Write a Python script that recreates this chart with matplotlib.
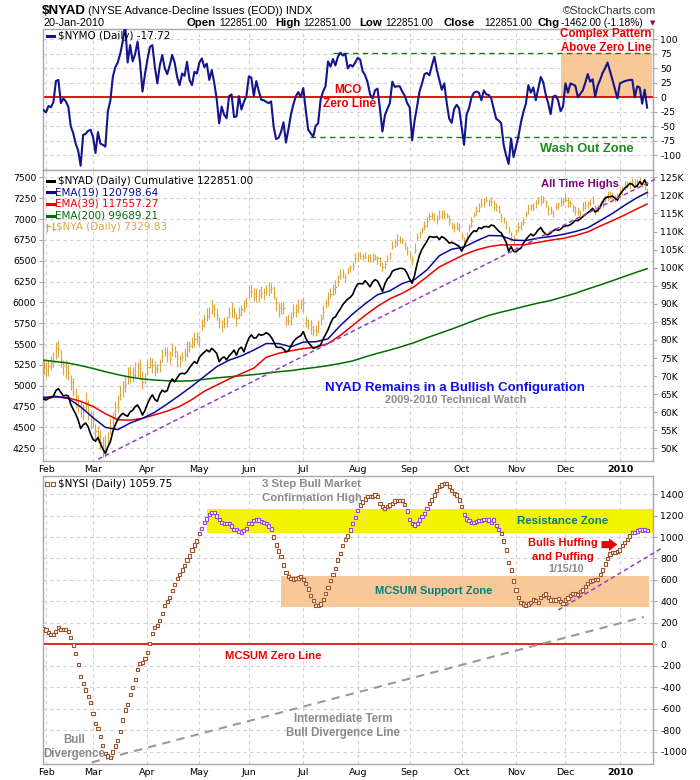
import numpy as np
import pandas as pd
import matplotlib
matplotlib.use('Agg')
import matplotlib.pyplot as plt
from matplotlib.patches import Rectangle, Polygon
from matplotlib.lines import Line2D

# ---------------- data ----------------
holidays = ['2009-02-16', '2009-04-10', '2009-05-25', '2009-07-03', '2009-09-07',
            '2009-11-26', '2009-12-25', '2010-01-01', '2010-01-18']
dates = pd.bdate_range('2009-01-30', '2010-01-20', freq='C', holidays=holidays)

month_labels = ['Feb', 'Mar', 'Apr', 'May', 'Jun', 'Jul', 'Aug', 'Sep', 'Oct', 'Nov', 'Dec', '2010']

nymo = [
    -22, -26, -15, -17, -8, 28, 30, -10, -2, -7,
    -16, -50, -62, -80, -92, -118, -65, -63, -58, -56,
    -68, -96, -60, -80, -82, -85, -24, -6, 35, 52,
    60, 75, 96, 125, 60, 90, 62, 74, 96, 60,
    10, 40, 65, 87, 90, 52, 24, 55, 73, 50,
    40, 55, 73, 60, 35, 21, 41, 37, 61, 30,
    21, 44, 41, 60, 67, 52, 58, 30, 47, 25,
    -3, -45, -16, -30, -36, 2, 5, -34, -33, 2,
    -21, -8, 2, 36, 34, 2, 28, 11, -4, -5,
    -8, -10, -7, -50, -72, -70, -60, -43, -78, -55,
    -30, -12, 2, 9, 0, 16, -22, -56, -62, -68,
    -49, -45, -4, 10, 19, 62, 53, 66, 55, 70,
    77, 72, 75, 50, 56, 53, 60, 68, 65, 45,
    38, 26, 5, -2, 12, 15, -20, -59, -31, -20,
    -10, 27, 18, 19, 19, 10, 3, -10, -17, -74,
    -40, -16, 10, 24, 40, 42, 38, 55, 70, 47,
    30, 13, 24, -10, -37, -44, -20, -13, -19, -50,
    -82, -30, -19, 0, 8, 10, 8, -5, 12, 5,
    4, -2, -20, -37, -40, -45, -82, -100, -115, -71,
    -103, -85, -67, -43, -25, -11, 21, 8, 17, -5,
    15, 35, 26, 5, -10, -29, 1, 3, -5, -24,
    -16, 24, 8, 24, 22, 20, 0, 6, 12, 25,
    40, 27, 31, 1, 20, 30, 42, 50, 60, 45,
    30, 14, -2, 24, 26, 28, 29, 30, 30, 0,
    19, 17, -11, 13, -17.72]

nyad_k = [
    63.6, 63.4, 63.8, 64.1, 64.5, 66.0, 66.5, 65.5, 64.5, 64.7,
    64.5, 62.2, 60.8, 59.5, 57.8, 55.5, 56.5, 57.0, 56.0, 54.0,
    52.5, 52.0, 53.0, 51.3, 49.8, 48.6, 50.4, 51.8, 54.6, 56.5,
    58.0, 59.0, 59.7, 59.2, 58.9, 60.1, 60.5, 61.5, 62.0, 60.8,
    59.2, 60.5, 62.3, 63.8, 64.8, 63.5, 63.0, 65.0, 66.1, 65.6,
    66.0, 68.0, 69.2, 68.4, 69.5, 70.5, 70.8, 70.6, 71.2, 72.3,
    73.2, 74.0, 73.5, 75.2, 76.0, 76.6, 77.2, 76.7, 77.7, 77.0,
    76.3, 74.0, 74.9, 75.3, 74.5, 75.6, 76.3, 77.2, 75.8, 77.5,
    78.0, 76.7, 78.8, 80.5, 81.4, 80.5, 80.6, 81.6, 81.3, 81.5,
    82.0, 81.6, 80.8, 79.6, 78.1, 77.9, 78.0, 77.5, 76.7, 77.0,
    78.3, 79.5, 80.3, 80.8, 81.2, 82.3, 80.5, 79.3, 78.5, 77.7,
    77.9, 78.2, 78.6, 80.2, 81.5, 82.8, 84.6, 86.0, 86.4, 87.6,
    88.6, 89.8, 90.6, 91.3, 91.8, 92.6, 94.3, 95.5, 95.6, 95.5,
    96.4, 95.6, 94.7, 96.0, 96.7, 96.3, 95.0, 93.4, 95.5, 96.9,
    97.6, 99.0, 99.4, 99.6, 99.8, 99.8, 99.5, 98.4, 96.8, 95.7,
    97.9, 101.0, 103.5, 105.1, 106.2, 107.3, 108.6, 108.5, 108.4, 108.6,
    107.8, 108.6, 108.2, 107.6, 106.8, 107.0, 106.7, 106.3, 105.9, 104.6,
    105.8, 107.4, 108.5, 109.5, 110.2, 110.0, 111.1, 110.8, 111.3, 111.4,
    111.2, 111.8, 111.6, 110.9, 110.1, 109.6, 108.4, 107.0, 104.5, 105.8,
    104.5, 104.4, 105.0, 105.4, 106.8, 107.8, 108.6, 109.3, 108.8, 109.5,
    110.5, 111.1, 110.0, 109.2, 109.1, 109.6, 110.2, 110.6, 110.3, 110.6,
    111.3, 111.6, 111.6, 111.9, 112.4, 113.1, 113.0, 113.5, 114.1, 114.7,
    115.2, 115.7, 116.4, 115.4, 115.8, 116.8, 118.2, 119.2, 119.6, 119.6,
    119.8, 119.2, 118.7, 120.3, 121.2, 122.0, 122.6, 123.3, 123.1, 122.3,
    122.6, 123.8, 123.0, 124.3, 122.851]

# EMA values read every 5 trading days (last point = final day)
ema_idx = list(range(0, 241, 5)) + [244]
ema19_k = [64.1, 64.4, 63.8, 61.5, 58.5, 55.8, 55.2, 57.0, 58.3, 60.0,
           62.3, 64.7, 67.2, 69.9, 72.6, 74.4, 75.6, 77.2, 79.0, 79.0,
           78.1, 79.4, 79.5, 80.3, 84.0, 87.2, 90.0, 92.5, 93.6, 95.6,
           96.7, 99.4, 103.3, 105.1, 105.7, 107.4, 108.9, 108.8, 107.6, 107.5,
           108.2, 108.6, 109.2, 110.0, 111.0, 113.0, 115.0, 117.3, 119.4, 120.8]
ema39_k = [63.8, 64.2, 64.0, 63.0, 61.6, 59.6, 57.9, 57.8, 58.3, 59.3,
           60.3, 61.6, 63.5, 65.8, 67.5, 69.2, 70.7, 72.2, 75.2, 76.3,
           77.0, 77.6, 78.0, 79.0, 81.3, 84.0, 86.8, 89.3, 91.4, 92.9,
           94.8, 97.5, 100.2, 101.9, 103.6, 104.9, 105.8, 106.3, 106.3, 106.4,
           107.0, 107.6, 108.1, 108.9, 109.9, 111.5, 113.0, 114.6, 116.3, 117.6]
ema200_k = [74.4, 74.0, 73.6, 72.9, 72.1, 71.2, 70.4, 69.7, 69.2, 68.9,
            68.7, 68.6, 68.7, 69.1, 69.5, 69.8, 70.1, 70.4, 70.8, 71.2,
            71.5, 72.0, 72.4, 72.9, 73.5, 74.2, 75.3, 76.3, 77.2, 78.2,
            79.3, 80.6, 81.8, 83.0, 84.3, 85.6, 86.8, 87.7, 88.5, 89.4,
            90.2, 90.9, 91.9, 92.9, 94.1, 95.2, 96.4, 97.6, 98.8, 99.7]

nya_close = [
    5230, 5180, 5240, 5270, 5280, 5460, 5440, 5300, 5236, 5220,
    5150, 5050, 4950, 4880, 4770, 4730, 4717, 4790, 4680, 4620,
    4590, 4460, 4400, 4330, 4298, 4250, 4350, 4480, 4600, 4700,
    4800, 4900, 4990, 5020, 5100, 5157, 5130, 5170, 5210, 5217,
    5040, 5080, 5220, 5280, 5250, 5200, 5210, 5250, 5350, 5410,
    5380, 5320, 5440, 5420, 5330, 5290, 5350, 5380, 5440, 5475,
    5510, 5560, 5580, 5560, 5720, 5800, 5840, 5875, 5940, 5920,
    5850, 5780, 5720, 5740, 5780, 5870, 5910, 5880, 5810, 5860,
    5920, 5950, 5990, 6140, 6130, 6100, 6075, 6100, 6115, 6120,
    6134, 6160, 6170, 6115, 5990, 5930, 5920, 5935, 5790, 5780,
    5820, 5890, 5910, 5940, 5980, 5990, 5790, 5730, 5700, 5670,
    5655, 5720, 5800, 5880, 5990, 6050, 6100, 6155, 6180, 6260,
    6320, 6350, 6300, 6370, 6420, 6434, 6520, 6570, 6560, 6554,
    6546, 6540, 6534, 6520, 6540, 6530, 6494, 6420, 6460, 6520,
    6580, 6680, 6720, 6745, 6750, 6733, 6700, 6620, 6570, 6520,
    6640, 6780, 6830, 6870, 6920, 6980, 7033, 7050, 7010, 7000,
    7040, 7070, 7060, 7040, 6990, 6920, 6900, 6894, 6910, 6800,
    6740, 6780, 6900, 6980, 7050, 7100, 7150, 7180, 7200, 7233,
    7215, 7200, 7180, 7150, 7100, 7020, 6990, 6933, 6860, 6800,
    6774, 6850, 6900, 6930, 6960, 7060, 7130, 7153, 7133, 7190,
    7210, 7220, 7233, 7200, 7120, 7100, 7073, 7140, 7180, 7200,
    7213, 7230, 7210, 7190, 7150, 7100, 7090, 7073, 7130, 7165,
    7190, 7195, 7213, 7120, 7140, 7160, 7193, 7240, 7270, 7293,
    7280, 7260, 7253, 7320, 7350, 7390, 7420, 7432, 7445, 7420,
    7440, 7452, 7420, 7400, 7329.83]

# bar extents above / below the close (index points)
nya_up = [
    80, 110, 70, 90, 120, 60, 100, 130, 70, 90,
    110, 80, 140, 90, 120, 100, 70, 130, 150, 90,
    110, 80, 120, 140, 90, 160, 100, 130, 80, 120,
    90, 110, 70, 100, 130, 80, 90, 120, 70, 100,
    140, 70, 90, 60, 80, 100, 50, 70, 90, 60,
    80, 100, 70, 60, 90, 80, 50, 70, 100, 60,
    80, 90, 70, 50, 80, 60, 90, 70, 100, 60,
    80, 50, 70, 90, 60, 80, 100, 70, 60, 90,
    50, 80, 70, 60, 90, 70, 100, 60, 80, 50,
    70, 90, 60, 80, 70, 60, 90, 70, 50, 80,
    60, 90, 70, 100, 60, 80, 50, 70, 90, 60,
    80, 70, 60, 90, 50, 80, 70, 60, 90, 70,
    80, 50, 40, 60, 30, 50, 70, 40, 50, 30,
    60, 40, 50, 70, 40, 30, 50, 60, 40, 50,
    30, 60, 40, 70, 50, 40, 30, 60, 50, 40,
    70, 50, 30, 40, 60, 50, 40, 30, 60, 50,
    70, 40, 50, 30, 60, 40, 50, 70, 40, 30,
    50, 60, 40, 50, 30, 60, 40, 70, 50, 40,
    30, 60, 50, 40, 70, 50, 30, 40, 60, 50,
    40, 30, 60, 50, 70, 40, 50, 30, 60, 40,
    50, 70, 40, 30, 50, 60, 40, 50, 30, 60,
    40, 70, 50, 40, 30, 60, 50, 40, 70, 50,
    30, 40, 60, 50, 40, 30, 60, 50, 70, 40,
    50, 30, 60, 40, 50, 70, 40, 30, 50, 60,
    40, 50, 30, 60, 40]
nya_dn = [
    90, 70, 120, 80, 60, 140, 90, 70, 110, 130,
    80, 100, 70, 150, 90, 110, 130, 80, 90, 140,
    100, 120, 70, 90, 150, 110, 80, 60, 120, 90,
    110, 70, 130, 100, 80, 120, 90, 70, 110, 130,
    80, 60, 90, 70, 100, 80, 60, 90, 70, 50,
    90, 60, 80, 70, 100, 60, 50, 80, 90, 70,
    60, 100, 70, 80, 50, 90, 60, 70, 80, 100,
    60, 90, 70, 50, 80, 60, 100, 70, 90, 60,
    80, 70, 50, 90, 60, 80, 70, 100, 60, 90,
    50, 80, 60, 70, 90, 100, 60, 80, 70, 50,
    90, 60, 80, 70, 60, 100, 90, 50, 80, 70,
    60, 90, 70, 80, 60, 90, 50, 70, 80, 60,
    40, 60, 50, 30, 60, 40, 50, 70, 40, 50,
    30, 60, 50, 40, 30, 70, 60, 40, 50, 30,
    60, 40, 50, 70, 40, 30, 60, 50, 40, 70,
    50, 30, 60, 40, 50, 70, 40, 50, 30, 60,
    40, 70, 50, 30, 60, 40, 50, 30, 70, 40,
    60, 50, 40, 70, 30, 50, 60, 40, 50, 30,
    60, 40, 70, 50, 30, 60, 40, 50, 30, 60,
    70, 40, 50, 60, 30, 40, 70, 50, 40, 60,
    30, 50, 40, 60, 70, 40, 50, 30, 60, 40,
    50, 30, 60, 40, 70, 50, 40, 60, 30, 50,
    60, 40, 30, 70, 50, 40, 60, 30, 50, 40,
    70, 50, 40, 30, 60, 40, 50, 70, 40, 30,
    50, 60, 40, 50, 70]

nysi = [
    149, 133, 112, 93, 93, 117, 159, 140, 140, 140,
    117, 65, -7, -84, -186, -302, -364, -426, -489, -541,
    -643, -737, -783, -858, -942, -1016, -1041, -1054, -1004, -948,
    -895, -811, -706, -613, -559, -466, -401, -326, -233, -177,
    -168, -131, -75, 9, 103, 159, 177, 220, 289, 360,
    397, 440, 500, 560, 610, 653, 693, 733, 786, 823,
    879, 926, 963, 1035, 1082, 1138, 1168, 1212, 1231, 1231,
    1196, 1166, 1134, 1128, 1128, 1128, 1103, 1072, 1072, 1054,
    1047, 1059, 1082, 1128, 1128, 1150, 1159, 1159, 1143, 1138,
    1128, 1103, 1075, 1000, 926, 870, 817, 739, 671, 630,
    615, 609, 612, 618, 630, 600, 569, 516, 457, 407,
    364, 364, 376, 420, 476, 531, 597, 653, 709, 786,
    849, 923, 973, 1010, 1066, 1122, 1184, 1249, 1299, 1327,
    1355, 1376, 1376, 1376, 1392, 1376, 1315, 1283, 1268, 1283,
    1299, 1315, 1336, 1343, 1343, 1343, 1305, 1243, 1166, 1122,
    1112, 1128, 1159, 1190, 1221, 1262, 1315, 1345, 1392, 1432,
    1469, 1485, 1501, 1501, 1469, 1432, 1408, 1392, 1345, 1283,
    1206, 1168, 1152, 1138, 1138, 1143, 1152, 1152, 1166, 1166,
    1159, 1138, 1159, 1106, 1072, 1035, 963, 879, 764, 693,
    590, 506, 438, 392, 376, 364, 376, 392, 413, 405,
    392, 435, 453, 469, 438, 413, 413, 413, 429, 397,
    382, 413, 432, 453, 476, 469, 465, 490, 506, 537,
    569, 590, 593, 600, 606, 653, 693, 749, 802, 842,
    858, 858, 863, 879, 917, 947, 979, 1010, 1041, 1044,
    1056, 1072, 1066, 1072, 1059.75]

# zones and drawn trend lines (trading-day index, value)
mco_upper, mco_lower = 76, -69
mco_upper_span, mco_lower_span = (117, 245.8), (107.7, 245.8)
complex_box = (209.2, 245.8, 0, 76)
nyad_trend = ((22.1, 47.0), (247.5, 124.55))
resist_zone = (66.2, 246.5, 1035, 1259)
support_zone = (96.0, 244.7, 345, 637)
nysi_trend_short = ((208.1, 320), (250.3, 901))
nysi_trend_long = ((19.5, -1100), (242.7, 255))

assert len(dates) == 245
for arr in (nymo, nyad_k, nya_close, nya_up, nya_dn, nysi):
    assert len(arr) == 245, len(arr)

# ---------------- figure ----------------
W, H = 700, 780
fig = plt.figure(figsize=(W / 100, H / 100), dpi=100)
fig.patch.set_facecolor('white')

def fx(px):
    return px / W

def fy(py):
    return 1 - py / H

ANN = ['Liberation Sans', 'DejaVu Sans']
LEG = ['DejaVu Sans']

def ftext(px, py, s, **kw):
    kw.setdefault('va', 'center')
    kw.setdefault('family', ANN)
    fig.text(fx(px), fy(py), s, **kw)

n = len(dates)
x = np.arange(n)
per = dates.to_period('M')
month_pos = [i for i in range(1, n) if per[i] != per[i - 1]]
XLIM = (-0.1, 246.5)
L, R = 43.3, 653.3

ax1 = fig.add_axes([fx(L), fy(169.5), (R - L) / W, (169.5 - 29) / H])
ax2 = fig.add_axes([fx(L), fy(461), (R - L) / W, (461 - 169.5) / H])
ax3 = fig.add_axes([fx(L), fy(764), (R - L) / W, (764 - 476) / H])
ax2r = ax2.twinx()

SPINE = '#a8a8a8'
GRID = '#d2d2d2'
BARC = '#DCA83E'

def style(ax, labels):
    ax.set_xlim(*XLIM)
    for s in ax.spines.values():
        s.set_color(SPINE)
        s.set_linewidth(1)
    ax.set_xticks(month_pos)
    if labels:
        ax.set_xticklabels(month_labels, family=LEG, fontsize=6.8)
        ax.get_xticklabels()[-1].set_fontweight('bold')
    else:
        ax.set_xticklabels([])
    ax.tick_params(axis='x', length=0, pad=3)
    ax.grid(True, color=GRID, ls=(0, (3, 3)), lw=0.8)
    ax.set_axisbelow(True)

def right_axis(ax, ticks, fmt):
    ax.set_yticks(ticks)
    ax.set_yticklabels([fmt(t) for t in ticks], family=LEG, fontsize=6.7)
    ax.yaxis.tick_right()
    ax.tick_params(axis='y', which='both', left=False, right=True, labelleft=False,
                   labelright=True, length=3, color=SPINE, pad=2)

# ---- top panel: NYMO ----
style(ax1, False)
ax1.set_ylim(-124.5, 117.8)
right_axis(ax1, list(range(-100, 101, 25)), lambda t: f'{t}')
bx0, bx1, by0, by1 = complex_box
ax1.add_patch(Rectangle((bx0, by0), bx1 - bx0, by1 - by0, facecolor='#F8C898',
                        edgecolor='none', zorder=1))
ax1.axhline(0, color='#e00000', lw=1.3, zorder=2)
ax1.plot(mco_upper_span, [mco_upper] * 2, color='#1a7a1a', lw=1, ls=(0, (4, 3)), zorder=2)
ax1.plot(mco_lower_span, [mco_lower] * 2, color='#1a7a1a', lw=1, ls=(0, (4, 3)), zorder=2)
ax1.plot(x, nymo, color='#14148c', lw=1.5, zorder=3)

# ---- middle panel: NYA bars (left) + NYAD (right) ----
style(ax2, True)
ax2.set_ylim(4098, 7594)
ax2.set_yticks(list(range(4250, 7501, 250)))
ax2.set_yticklabels([str(t) for t in range(4250, 7501, 250)], family=LEG, fontsize=6.7)
ax2.tick_params(axis='y', length=3, color=SPINE, pad=2)
close = np.array(nya_close)
ax2.vlines(x, close - np.array(nya_dn), close + np.array(nya_up), color=BARC, lw=0.85, zorder=2)
ax2.hlines(close, x, x + 0.45, color=BARC, lw=0.85, zorder=2)

ax2r.set_xlim(*XLIM)
ax2r.set_ylim(46.5, 127.16)
yt = list(range(50, 126, 5))
ax2r.set_yticks(yt)
ax2r.set_yticklabels([f'{t}K' for t in yt], family=LEG, fontsize=6.7)
ax2r.tick_params(axis='y', length=3, color=SPINE, pad=2)
for s in ax2r.spines.values():
    s.set_visible(False)
ax2r.plot(ema_idx, ema200_k, color='#006e00', lw=1.1, zorder=3)
ax2r.plot(ema_idx, ema39_k, color='#f00000', lw=1.1, zorder=3)
ax2r.plot(ema_idx, ema19_k, color='#0a0a9a', lw=1.1, zorder=3)
ax2r.plot(x, nyad_k, color='black', lw=1.2, zorder=4)
(t0, v0), (t1, v1) = nyad_trend
ax2r.plot([t0, t1], [v0, v1], color='#9a3fc0', lw=1.1, ls=(0, (3, 2)), zorder=5, clip_on=False)

# ---- bottom panel: NYSI ----
style(ax3, True)
ax3.set_ylim(-1116, 1569)
right_axis(ax3, list(range(-1000, 1401, 200)), lambda t: f'{t}')
rx0, rx1, ry0, ry1 = resist_zone
ax3.add_patch(Rectangle((rx0, ry0), rx1 - rx0, ry1 - ry0, facecolor='#F4F400', edgecolor='none', zorder=1))
sx0, sx1, sy0, sy1 = support_zone
ax3.add_patch(Rectangle((sx0, sy0), sx1 - sx0, sy1 - sy0, facecolor='#F8C898', edgecolor='none', zorder=1))
ax3.axhline(0, color='#e00000', lw=1.2, zorder=2)
(a0, b0), (a1, b1) = nysi_trend_long
ax3.plot([a0, a1], [b0, b1], color='#9a9a9a', lw=1.5, ls=(0, (4, 3)), zorder=2)
(a0, b0), (a1, b1) = nysi_trend_short
ax3.plot([a0, a1], [b0, b1], color='#9a3fc0', lw=1.1, ls=(0, (3, 2)), zorder=5, clip_on=False)
nysi_arr = np.array(nysi)
cols = ['#9b45e0' if (1040 <= v <= 1262) else '#a0522d' for v in nysi_arr]
ax3.scatter(x, nysi_arr, marker='s', s=5, facecolors='white', edgecolors=cols, linewidths=0.8, zorder=4)

# ---------------- header ----------------
ftext(42, 11, '$NYAD', fontsize=9.6, fontweight='bold')
ftext(88.5, 11, '(NYSE Advance-Decline Issues (EOD)) INDX', fontsize=8)
ftext(656, 11, '\u00a9StockCharts.com', fontsize=8, ha='right', color='#333333')
ftext(43, 23.5, '20-Jan-2010', fontsize=7.8)
parts = [(186, 'Open', True), (219, '122851.00', False), (275, 'High', True), (303, '122851.00', False),
         (359, 'Low', True), (385, '122851.00', False), (444, 'Close', True), (484, '122851.00', False),
         (537, 'Chg', True), (561, '-1462.00 (-1.18%)', False)]
for px, s, b in parts:
    ftext(px, 23.5, s, fontsize=8.2 if b else 7.3, fontweight='bold' if b else 'normal')
ftext(653, 23.5, '\u25bc', fontsize=5, color='#8b0a3a', ha='center', family=LEG)

# ---------------- legends ----------------
def legline(px0, px1, py, color, lw=2.2):
    fig.add_artist(Line2D([fx(px0), fx(px1)], [fy(py)] * 2, color=color, lw=lw))

legline(46.5, 54, 36, '#14148c')
ftext(58, 36, '$NYMO (Daily) -17.72', fontsize=7.5, family=LEG)

legline(46.5, 54, 180.7, 'black')
ftext(58, 180.7, '$NYAD (Daily) Cumulative 122851.00', fontsize=7.5, family=LEG)
legline(46.5, 54, 192.3, '#0a0a9a')
ftext(55.5, 192.3, 'EMA(19) 120798.64', fontsize=7.5, family=LEG, color='#0a0a9a')
legline(46.5, 54, 204, '#f00000')
ftext(55.5, 204, 'EMA(39) 117557.27', fontsize=7.5, family=LEG, color='#f00000')
legline(46.5, 54, 215.7, '#006e00')
ftext(55.5, 215.7, 'EMA(200) 99689.21', fontsize=7.5, family=LEG, color='#006e00')
# small HLC bar icon for $NYA
for bx, ylo, yhi, tick in ((47.5, 224, 231, 226), (52.5, 223, 230, 228.5)):
    fig.add_artist(Line2D([fx(bx), fx(bx)], [fy(ylo), fy(yhi)], color=BARC, lw=1))
    fig.add_artist(Line2D([fx(bx), fx(bx + 2)], [fy(tick), fy(tick)], color=BARC, lw=1))
ftext(56.5, 227.3, '$NYA (Daily) 7329.83', fontsize=7.5, family=LEG, color=BARC)

for sqx in (47.5, 52.5):
    fig.add_artist(Line2D([fx(sqx)], [fy(484)], marker='s', ms=2.4, mfc='white',
                          mec='#a0522d', mew=0.8, ls='none'))
ftext(58, 484, '$NYSI (Daily) 1059.75', fontsize=7.5, family=LEG)

# ---------------- annotations ----------------
RED = '#ee0000'
GRAY = '#8a8a8a'
TEAL = '#008080'
ftext(651, 34.3, 'Complex Pattern', fontsize=8.3, fontweight='bold', color=RED, ha='right')
ftext(651, 48.3, 'Above Zero Line', fontsize=8.3, fontweight='bold', color=RED, ha='right')
ftext(348, 90, 'MCO', fontsize=8.5, fontweight='bold', color=RED, ha='center')
ftext(349.5, 104.3, 'Zero Line', fontsize=8.5, fontweight='bold', color=RED, ha='center')
ftext(587, 149, 'Wash Out Zone', fontsize=9.3, fontweight='bold', color='#1a8a1a', ha='center')

ftext(579.7, 184, 'All Time Highs', fontsize=8.1, fontweight='bold', color='#800080', ha='center')
ftext(455, 388.3, 'NYAD Remains in a Bullish Configuration', fontsize=9.5, fontweight='bold',
      color='#1010e8', ha='center')
ftext(455.5, 400, '2009-2010 Technical Watch', fontsize=7.9, fontweight='bold', color=GRAY, ha='center')

ftext(312, 484, '3 Step Bull Market', fontsize=8.2, fontweight='bold', color=GRAY, ha='center')
ftext(312, 498.5, 'Confirmation High', fontsize=8.2, fontweight='bold', color=GRAY, ha='center')
ftext(563, 521, 'Resistance Zone', fontsize=8.2, fontweight='bold', color=TEAL, ha='center')
ftext(434, 590.7, 'MCSUM Support Zone', fontsize=8.0, fontweight='bold', color=TEAL, ha='center')
ftext(563, 542.7, 'Bulls Huffing', fontsize=8.0, fontweight='bold', color=RED, ha='center')
ftext(563, 557.3, 'and Puffing', fontsize=8.0, fontweight='bold', color=RED, ha='center')
ftext(565.7, 569, '1/15/10', fontsize=7.8, fontweight='bold', color=GRAY, ha='center')
ftext(273, 656, 'MCSUM Zero Line', fontsize=8.1, fontweight='bold', color=RED, ha='center')
ftext(343, 719, 'Intermediate Term', fontsize=8.3, fontweight='bold', color=GRAY, ha='center')
ftext(343, 733.3, 'Bull Divergence Line', fontsize=8.3, fontweight='bold', color=GRAY, ha='center')
ftext(74.3, 740, 'Bull', fontsize=8.3, fontweight='bold', color=GRAY, ha='center')
ftext(73.7, 754, 'Divergence', fontsize=8.3, fontweight='bold', color=GRAY, ha='center')

arrow_px = [(601.5, 541), (609, 541), (609, 538.3), (617.3, 544.5), (609, 551),
            (609, 548.2), (601.5, 548.2)]
fig.add_artist(Polygon([(fx(a), fy(b)) for a, b in arrow_px], closed=True,
                       transform=fig.transFigure, facecolor='#ee0000', edgecolor='none'))

fig.savefig('out.png', dpi=100, facecolor='white')
